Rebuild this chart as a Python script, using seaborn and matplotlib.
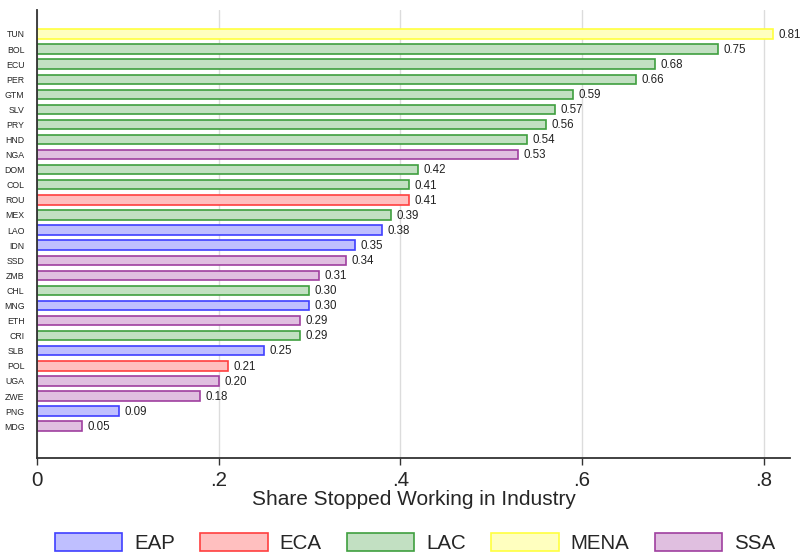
import matplotlib
matplotlib.use("Agg")
import matplotlib.pyplot as plt
import seaborn as sns
import pandas as pd
from matplotlib.patches import Patch

# Country codes, regions and share who stopped working (industry)
countries = ["TUN", "BOL", "ECU", "PER", "GTM", "SLV", "PRY", "HND", "NGA",
             "DOM", "COL", "ROU", "MEX", "LAO", "IDN", "SSD", "ZMB", "CHL",
             "MNG", "ETH", "CRI", "SLB", "POL", "UGA", "ZWE", "PNG", "MDG"]
regions = ["MENA", "LAC", "LAC", "LAC", "LAC", "LAC", "LAC", "LAC", "SSA",
           "LAC", "LAC", "ECA", "LAC", "EAP", "EAP", "SSA", "SSA", "LAC",
           "EAP", "SSA", "LAC", "EAP", "ECA", "SSA", "SSA", "EAP", "SSA"]
shares = [0.81, 0.75, 0.68, 0.66, 0.59, 0.57, 0.56, 0.54, 0.53,
          0.42, 0.41, 0.41, 0.39, 0.38, 0.35, 0.34, 0.31, 0.30,
          0.30, 0.29, 0.29, 0.25, 0.21, 0.20, 0.18, 0.09, 0.05]

region_order = ["EAP", "ECA", "LAC", "MENA", "SSA"]
fill_colors = {"EAP": "#bfbfff", "ECA": "#ffbfbf", "LAC": "#c2e0c2",
               "MENA": "#ffffbf", "SSA": "#e0bfe0"}
edge_colors = {"EAP": "#3f3fff", "ECA": "#ff3f3f", "LAC": "#3f9f3f",
               "MENA": "#ffff3f", "SSA": "#9f3f9f"}

df = pd.DataFrame({"country": countries, "region": regions, "share": shares})

sns.set_style("white")
plt.rcParams["font.family"] = ["Liberation Sans", "DejaVu Sans"]

fig = plt.figure(figsize=(8.01, 5.52), dpi=100)
ax = fig.add_axes([0.0462, 0.170, 0.94, 0.812])

sns.barplot(data=df, x="share", y="country", hue="region", order=countries,
            hue_order=region_order, palette=fill_colors, dodge=False,
            orient="h", width=0.62, saturation=1, legend=False, ax=ax)

for level, cont in zip(region_order, ax.containers):
    for bar in cont:
        bar.set_edgecolor(edge_colors[level])
        bar.set_linewidth(1.2)

# value labels at the end of each bar
for i, (c, v) in enumerate(zip(countries, shares)):
    ax.text(v + 0.006, i + 0.05, f"{v:.2f}", va="center", ha="left",
            fontsize=8.3, color="#222222")

ax.set_xlim(0, 0.829)
ax.set_ylim(28.12, -1.59)
ax.set_xticks([0, 0.2, 0.4, 0.6, 0.8])
ax.set_xticklabels(["0", ".2", ".4", ".6", ".8"])
ax.xaxis.grid(True, color="#dcdcdc", linewidth=1.0)
ax.set_axisbelow(True)

ax.tick_params(axis="x", labelsize=14.8, length=5, width=1, color="#333333",
               pad=4, bottom=True)
ax.tick_params(axis="y", labelsize=6.3, length=0, pad=9)
ax.set_xlabel("Share Stopped Working in Industry", fontsize=15, labelpad=0)
ax.set_ylabel("")

for side in ["top", "right"]:
    ax.spines[side].set_visible(False)
for side in ["left", "bottom"]:
    ax.spines[side].set_color("#333333")
    ax.spines[side].set_linewidth(1.3)

handles = [Patch(facecolor=fill_colors[r], edgecolor=edge_colors[r],
                 linewidth=1.2, label=r) for r in region_order]
fig.legend(handles=handles, loc="lower center", bbox_to_anchor=(0.518, -0.02),
           ncol=5, frameon=False, fontsize=14.8, handlelength=3.27,
           handleheight=0.96, handletextpad=0.58, columnspacing=1.24,
           borderaxespad=0.1)

fig.savefig("out.png", dpi=100)
